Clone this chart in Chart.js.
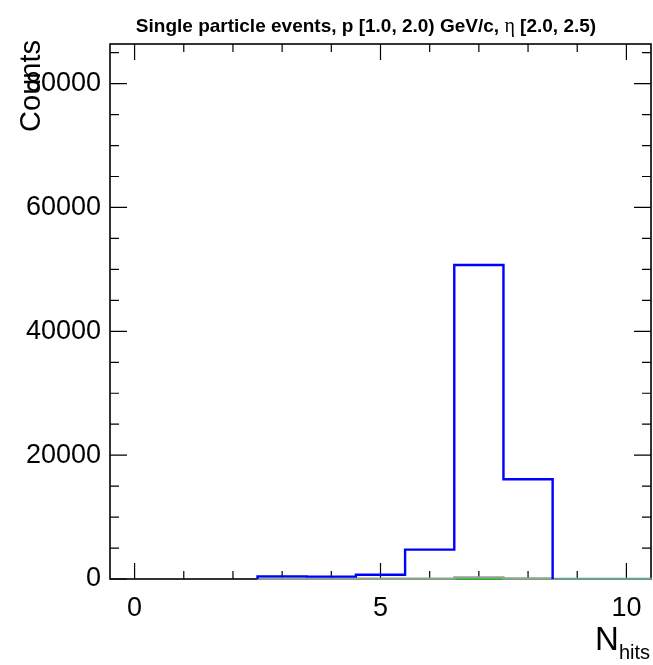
<!DOCTYPE html>
<html>
<head>
<meta charset="utf-8">
<script src="https://cdn.jsdelivr.net/npm/chart.js@4"></script>
<style>
  body { margin: 0; background: #fff; }
</style>
</head>
<body>
<canvas id="hitsChart" width="653" height="665"></canvas>
<script>
// =========================
// DATA
// =========================
const binCenters = [3, 4, 5, 6, 7, 8, 9, 10];
const blueCounts = [420, 380, 680, 4750, 50700, 16100];
const grayCounts = [60, 50, 70, 80, 280, 90, 20, 10];
const greenCounts = [30, 0, 0, 0, 40, 0, 0, 0];

const xTicks = [0, 5, 10];
const yTicks = [0, 20000, 40000, 60000, 80000];
const xMinorStep = 1;
const yMinorStep = 5000;

// title pieces: eta is set in a serif face like ROOT's symbol font
const titleParts = ["Single particle events, p [1.0, 2.0) GeV/c, ", "\u03B7", " [2.0, 2.5)"];
const yTitle = "Counts";
const xTitle = "N";
const xTitleSub = "hits";

// histogram outline: bin edges from the centers
const histPoints = values => {
    const pts = [{ x: binCenters[0] - 0.5, y: 0 }];
    values.forEach((v, i) => {
        pts.push({ x: binCenters[i] - 0.5, y: v });
        pts.push({ x: binCenters[i] + 0.5, y: v });
    });
    pts.push({ x: binCenters[values.length - 1] + 0.5, y: 0 });
    return pts;
};

const FONT = "'Liberation Sans', Arial, Helvetica, sans-serif";
const SERIF = "'Liberation Serif', 'DejaVu Serif', serif";

// =========================
// FRAME + TICKS + TITLES (ROOT style)
// =========================
const frameTicks = {
    id: "frameTicks",
    beforeDatasetsDraw(chart) {
        const { ctx, chartArea: a, scales: { x, y } } = chart;
        ctx.save();
        ctx.strokeStyle = "#000";
        ctx.lineWidth = 1.2;
        ctx.beginPath();
        for (let v = Math.ceil(x.min); v <= x.max; v += xMinorStep) {
            const px = x.getPixelForValue(v);
            const len = xTicks.includes(v) ? 16 : 8;
            ctx.moveTo(px, a.bottom); ctx.lineTo(px, a.bottom - len);
            ctx.moveTo(px, a.top); ctx.lineTo(px, a.top + len);
        }
        for (let v = 0; v <= y.max; v += yMinorStep) {
            const py = y.getPixelForValue(v);
            const len = yTicks.includes(v) ? 17 : 9;
            ctx.moveTo(a.left, py); ctx.lineTo(a.left + len, py);
            ctx.moveTo(a.right, py); ctx.lineTo(a.right - len, py);
        }
        ctx.stroke();
        ctx.lineWidth = 1.6;
        ctx.strokeRect(a.left, a.top, a.right - a.left, a.bottom - a.top);
        ctx.restore();
    },
    afterDraw(chart) {
        const { ctx, chartArea: a } = chart;

        // main title
        ctx.save();
        ctx.fillStyle = "#000";
        ctx.textBaseline = "alphabetic";
        ctx.textAlign = "left";
        const fonts = [`bold 19px ${FONT}`, `20px ${SERIF}`, `bold 19px ${FONT}`];
        const widths = titleParts.map((t, i) => { ctx.font = fonts[i]; return ctx.measureText(t).width; });
        let tx = 366 - widths.reduce((s, w) => s + w, 0) / 2;
        titleParts.forEach((t, i) => {
            ctx.font = fonts[i];
            ctx.fillText(t, tx, 32);
            tx += widths[i];
        });
        ctx.restore();

        // y axis title, rotated, aligned to top
        ctx.save();
        ctx.fillStyle = "#000";
        ctx.translate(40, a.top - 4);
        ctx.rotate(-Math.PI / 2);
        ctx.font = `29px ${FONT}`;
        ctx.textAlign = "right";
        ctx.textBaseline = "alphabetic";
        ctx.fillText(yTitle, 0, 0);
        ctx.restore();

        // x axis title N_hits, aligned to right
        ctx.save();
        ctx.fillStyle = "#000";
        ctx.font = `20px ${FONT}`;
        const subW = ctx.measureText(xTitleSub).width;
        ctx.textAlign = "right";
        ctx.fillText(xTitleSub, 650, 659);
        ctx.font = `33px ${FONT}`;
        ctx.fillText(xTitle, 650 - subW, 650);
        ctx.restore();
    }
};

// =========================
// CHART
// =========================
new Chart(document.getElementById("hitsChart"), {
    type: "line",
    data: {
        datasets: [
            {
                label: "blue",
                data: histPoints(blueCounts),
                borderColor: "#0000ff",
                borderWidth: 2.4,
                pointRadius: 0,
                fill: false,
                clip: 6
            },
            {
                label: "gray",
                data: histPoints(grayCounts),
                borderColor: "#9c9c9c",
                borderWidth: 2.2,
                pointRadius: 0,
                fill: false,
                clip: 6,
                segment: {
                    borderColor: c => c.p0.parsed.x >= 8.5 ? "#6a9e90" : undefined
                }
            },
            {
                label: "green",
                data: histPoints(greenCounts),
                borderColor: "#33cc33",
                borderWidth: 2.2,
                pointRadius: 0,
                fill: false,
                clip: 6
            }
        ]
    },
    options: {
        responsive: false,
        animation: false,
        layout: { padding: { top: 44, right: 2, left: 0, bottom: 0 } },
        plugins: {
            legend: { display: false },
            tooltip: { enabled: false },
            title: { display: false }
        },
        scales: {
            x: {
                type: "linear",
                min: -0.5,
                max: 10.5,
                grid: { display: false },
                border: { display: false },
                afterBuildTicks: s => { s.ticks = xTicks.map(v => ({ value: v })); },
                afterFit: s => { s.height = 86; },
                ticks: {
                    color: "#000",
                    font: { family: FONT, size: 27 },
                    padding: 5,
                    maxRotation: 0
                }
            },
            y: {
                type: "linear",
                min: 0,
                max: 86400,
                grid: { display: false },
                border: { display: false },
                afterBuildTicks: s => { s.ticks = yTicks.map(v => ({ value: v })); },
                afterFit: s => { s.width = 110; },
                ticks: {
                    color: "#000",
                    font: { family: FONT, size: 27 },
                    padding: 1,
                    callback: v => String(v)
                }
            }
        }
    },
    plugins: [frameTicks]
});
</script>
</body>
</html>
